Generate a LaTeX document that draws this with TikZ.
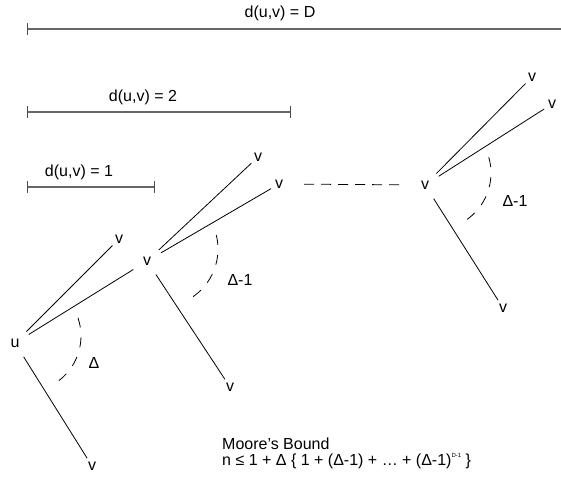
\documentclass[tikz,border=0pt]{standalone}
\usepackage{fontspec}
\setmainfont{Liberation Sans}
\usetikzlibrary{calc}
\begin{document}
\begin{tikzpicture}[x=1pt,y=-1pt,
  lbl/.style={font=\fontsize{16}{19}\selectfont, inner sep=0pt},
  hub/.style={circle, minimum size=32pt, inner sep=0pt, font=\fontsize{16}{19}\selectfont},
  leaf/.style={circle, minimum size=18pt, inner sep=0pt, font=\fontsize{16}{19}\selectfont},
  edge/.style={line width=0.8pt, black},
  bar/.style={line width=1.4pt, black!60},
  tick/.style={line width=1pt, black!70},
  arcd/.style={line width=0.8pt, dash pattern=on 10pt off 10pt},
  gap/.style={line width=0.8pt, dash pattern=on 10pt off 7pt},
]
\useasboundingbox (0,0) rectangle (561,481);

% distance bars
\coordinate (DL) at (27,29);  \coordinate (DR) at (561,29);
\coordinate (TL) at (27,112); \coordinate (TR) at (290,112);
\coordinate (OL) at (27,187); \coordinate (OR) at (154,187);
\draw[bar] (DL) -- (DR);
\draw[tick] ($(DL)+(0,-6)$) -- ($(DL)+(0,6)$);
\draw[bar] (TL) -- (TR);
\draw[tick] ($(TL)+(0,-6)$) -- ($(TL)+(0,6)$);
\draw[tick] ($(TR)+(0,-6)$) -- ($(TR)+(0,6)$);
\draw[bar] (OL) -- (OR);
\draw[tick] ($(OL)+(0,-6)$) -- ($(OL)+(0,6)$);
\draw[tick] ($(OR)+(0,-6)$) -- ($(OR)+(0,6)$);
\node[lbl] (lD) at (280,13) {d(u,v) = D};
\node[lbl] (l2) at (143,97) {d(u,v) = 2};
\node[lbl] (l1) at (79,172) {d(u,v) = 1};

% hubs
\node[hub] (u)  at (15,343)  {u};
\node[hub] (vm) at (147,261) {v};
\node[hub] (vr) at (425,185) {v};

% leaves
\node[leaf] (v1)  at (119,239) {v};
\node[leaf] (vd)  at (92,466)  {v};
\node[leaf] (va)  at (258,157) {v};
\node[leaf] (vb)  at (279,184) {v};
\node[leaf] (vc)  at (230,387) {v};
\node[leaf] (vr1) at (532,77)  {v};
\node[leaf] (vr2) at (552,104) {v};
\node[leaf] (vr3) at (503,308) {v};

% edges
\draw[edge] (u) -- (v1);
\draw[edge] (u) -- (vm);
\draw[edge] (u) -- (vd);
\draw[edge] (vm) -- (va);
\draw[edge] (vm) -- (vb);
\draw[edge] (vm) -- (vc);
\draw[edge] (vr) -- (vr1);
\draw[edge] (vr) -- (vr2);
\draw[edge] (vr) -- (vr3);
\draw[gap, shorten <=16pt, shorten >=9pt] (vb) -- (vr);

% degree arcs
\draw[arcd] ($(u)+(10,-7)+(-19:56)$) arc[start angle=-19, end angle=57, radius=56];
\draw[arcd] ($(vm)+(13,-12)+(-14:58)$) arc[start angle=-14, end angle=58, radius=58];
\draw[arcd] ($(vr)+(9,-12)+(-16:57)$) arc[start angle=-16, end angle=57, radius=57];
\node[lbl] (d0) at (94,363)  {Δ};
\node[lbl] (d1) at (240,280) {Δ-1};
\node[lbl] (d2) at (515,201) {Δ-1};

% Moore's bound
\node[lbl, anchor=west] (mb) at (222,444) {Moore’s Bound};
\node[lbl, anchor=west] (mf) at (222,461) {n ≤ 1 + Δ \{ 1 + (Δ-1) + … + (Δ-1)\raisebox{0.85ex}{\fontsize{6}{6}\selectfont D-1} \}};
\end{tikzpicture}
\end{document}
